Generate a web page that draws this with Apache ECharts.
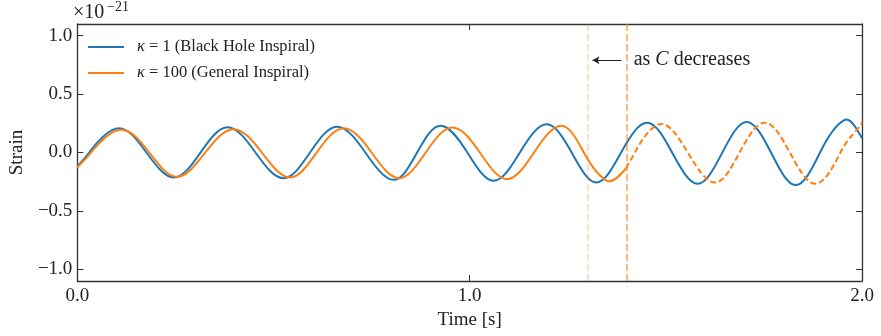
<!DOCTYPE html>
<html><head><meta charset="utf-8">
<script src="https://cdn.jsdelivr.net/npm/echarts@6/dist/echarts.min.js"></script>
<style>html,body{margin:0;padding:0;background:#fff}#c{width:881px;height:336px}</style>
</head><body><div id="c"></div>
<script>
// Blue: kappa = 1 (Black Hole Inspiral) — extrema and zero crossings
const blueT = [0, 0.03, 0.106, 0.176, 0.246, 0.314, 0.383, 0.454, 0.525, 0.593, 0.662, 0.734, 0.806, 0.866, 0.926, 0.994, 1.061, 1.128, 1.196, 1.26, 1.323, 1.386, 1.452, 1.516, 1.581, 1.644, 1.706, 1.768, 1.831, 1.893, 1.955, 2.0];
const blueS = [-0.12, 0, 0.207, 0, -0.214, 0, 0.216, 0, -0.22, 0, 0.221, 0, -0.234, 0, 0.23, 0, -0.242, 0, 0.241, 0, -0.257, 0, 0.255, 0, -0.268, 0, 0.261, 0, -0.279, 0, 0.278, 0.122];
// Orange: kappa = 100 (General Inspiral), solid part
const orangeT = [0, 0.035, 0.112, 0.183, 0.254, 0.326, 0.398, 0.47, 0.542, 0.61, 0.679, 0.75, 0.82, 0.888, 0.956, 1.026, 1.095, 1.164, 1.233, 1.291, 1.349, 1.399];
const orangeS = [-0.13, 0, 0.195, 0, -0.208, 0, 0.20, 0, -0.214, 0, 0.207, 0, -0.22, 0, 0.213, 0, -0.228, 0, 0.23, 0, -0.24, -0.134];
// Orange dashed continuation
const orangeDashT = [1.399, 1.421, 1.488, 1.556, 1.625, 1.688, 1.752, 1.816, 1.881, 1.945, 2.0];
const orangeDashS = [-0.134, 0, 0.244, 0, -0.257, 0, 0.255, 0, -0.268, 0, 0.258];
// Vertical guide lines and annotation
const guideLight = 1.3;
const guideDark = 1.4;
const arrowFrom = [1.387, 0.79];
const arrowTo = [1.313, 0.79];
const annotAt = [1.418, 0.79];
// Ticks
const yTicks = [-1.0, -0.5, 0.0, 0.5, 1.0];
const xTicks = [0.0, 1.0, 2.0];
const seriesNames = ['κ = 1 (Black Hole Inspiral)', 'κ = 100 (General Inspiral)'];

const zip = (a, b) => a.map((v, i) => [v, b[i]]);
const FONT = 'Liberation Serif';
const BLUE = '#1f77b4', ORANGE = '#ff7f0e', AX = '#333';
const fmt = v => v.toFixed(1).replace('-', '−');

// Smooth curve through the data points, positioned with the chart's own scales (api.coord)
function curveSeries(name, data, color, dash) {
  return {
    name, type: 'custom', data, clip: true, z: 3, silent: true,
    encode: {x: 0, y: 1},
    itemStyle: {color},
    renderItem: (params, api) => {
      if (params.dataIndex !== 0) return null;
      const p = data.map(d => api.coord(d));
      const kx = 0.17, ky = 0.26;
      let d = 'M' + p[0][0] + ' ' + p[0][1];
      for (let i = 0; i < p.length - 1; i++) {
        const p0 = p[Math.max(i - 1, 0)], p1 = p[i], p2 = p[i + 1], p3 = p[Math.min(i + 2, p.length - 1)];
        const c1 = [p1[0] + (p2[0] - p0[0]) * kx, p1[1] + (p2[1] - p0[1]) * ky];
        const c2 = [p2[0] - (p3[0] - p1[0]) * kx, p2[1] - (p3[1] - p1[1]) * ky];
        d += ' C' + c1[0] + ' ' + c1[1] + ' ' + c2[0] + ' ' + c2[1] + ' ' + p2[0] + ' ' + p2[1];
      }
      return {
        type: 'path', shape: {pathData: d},
        style: {fill: null, stroke: color, lineWidth: 2, lineDash: dash || null, lineJoin: 'round'}
      };
    }
  };
}

const chart = echarts.init(document.getElementById('c'), null, {renderer: 'canvas'});
const axisCommon = {
  axisLine: {show: true, onZero: false, lineStyle: {color: AX, width: 1.3}},
  splitLine: {show: false}
};
chart.setOption({
  animation: false,
  backgroundColor: '#fff',
  textStyle: {fontFamily: FONT},
  grid: {left: 73, right: 19, top: 24, bottom: 55, containLabel: false},
  legend: {
    data: seriesNames.map(n => ({name: n, icon: 'rect'})),
    orient: 'vertical',
    left: 88, top: 38, padding: 0,
    itemWidth: 36, itemHeight: 2, itemGap: 8,
    textStyle: {fontFamily: FONT, fontSize: 16.5, color: '#222', lineHeight: 18, padding: [0, 0, 0, 8],
      rich: {k: {fontFamily: FONT, fontStyle: 'italic', fontSize: 16.5, color: '#222'}}},
    formatter: n => n.replace('κ', '{k|κ}')
  },
  xAxis: [
    Object.assign({}, axisCommon, {
      type: 'value', min: 0, max: 2, interval: 1, position: 'bottom',
      name: 'Time [s]', nameLocation: 'middle', nameGap: 27,
      nameTextStyle: {fontFamily: FONT, fontSize: 19, color: '#222'},
      axisTick: {show: true, inside: true, length: 6, lineStyle: {color: AX}},
      axisLabel: {show: true, margin: 6, fontFamily: FONT, fontSize: 19, color: '#222', formatter: fmt}
    }),
    Object.assign({}, axisCommon, {
      type: 'value', min: 0, max: 2, interval: 1, position: 'top',
      axisTick: {show: true, inside: true, length: 6, lineStyle: {color: AX}},
      axisLabel: {show: false}
    })
  ],
  yAxis: [
    Object.assign({}, axisCommon, {
      type: 'value', min: -1.1, max: 1.1, position: 'left',
      name: 'Strain', nameLocation: 'middle', nameGap: 50,
      nameTextStyle: {fontFamily: FONT, fontSize: 19, color: '#222'},
      axisTick: {show: true, inside: true, length: 6, lineStyle: {color: AX}, customValues: yTicks},
      axisLabel: {show: true, margin: 5, fontFamily: FONT, fontSize: 19, color: '#222', formatter: fmt, customValues: yTicks}
    }),
    Object.assign({}, axisCommon, {
      type: 'value', min: -1.1, max: 1.1, position: 'right',
      axisTick: {show: true, inside: true, length: 6, lineStyle: {color: AX}, customValues: yTicks},
      axisLabel: {show: false}
    })
  ],
  graphic: [
    {type: 'text', left: 73, top: 3, style: {text: '×10', font: '20px "Liberation Serif"', fill: '#222'}},
    {type: 'text', left: 107, top: 0, style: {text: '−21', font: '14px "Liberation Serif"', fill: '#222'}}
  ],
  series: [
    {
      name: 'guides', type: 'line', data: [], silent: true,
      markLine: {
        silent: true, symbol: ['none', 'none'], label: {show: false}, animation: false,
        data: [
          {xAxis: guideLight, lineStyle: {color: 'rgba(255,127,14,0.25)', width: 2, type: [7, 3]}},
          {xAxis: guideDark, lineStyle: {color: 'rgba(255,127,14,0.55)', width: 2, type: [7, 3]}},
          [{coord: arrowFrom, symbol: 'none', lineStyle: {color: '#222', width: 1, type: 'solid'}},
           {coord: arrowTo, symbol: 'arrow', symbolSize: [6, 7]}]
        ]
      },
      markPoint: {
        silent: true, symbol: 'circle', symbolSize: 0,
        data: [{coord: annotAt}],
        label: {show: true, position: 'right', distance: 0, formatter: '{t|as }{c|C}{t| decreases}',
          rich: {t: {fontFamily: FONT, fontSize: 20, color: '#222'},
                 c: {fontFamily: FONT, fontSize: 20, fontStyle: 'italic', color: '#222'}}}
      }
    },
    curveSeries(seriesNames[0], zip(blueT, blueS), BLUE, null),
    curveSeries(seriesNames[1], zip(orangeT, orangeS), ORANGE, null),
    curveSeries('dashed', zip(orangeDashT, orangeDashS), ORANGE, [6, 3])
  ]
});
</script></body></html>
